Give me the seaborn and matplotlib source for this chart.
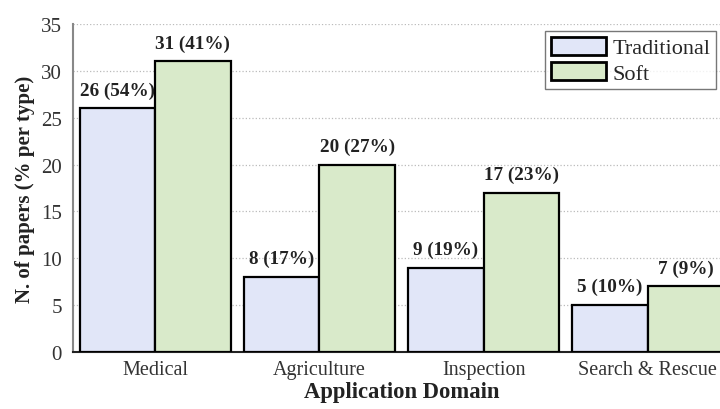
import pandas as pd
import matplotlib.pyplot as plt
import seaborn as sns

domains = ["Medical", "Agriculture", "Inspection", "Search & Rescue"]
traditional = [26, 8, 9, 5]
soft = [31, 20, 17, 7]
series = ["Traditional", "Soft"]
colors = ["#dde4fc", "#d9efc5"]

df = pd.DataFrame({
    "Domain": domains * 2,
    "Papers": traditional + soft,
    "Type": [series[0]] * len(domains) + [series[1]] * len(domains),
})

sns.set_style("white")
plt.rcParams["font.family"] = ["Liberation Serif", "DejaVu Serif"]

fig = plt.figure(figsize=(7.2, 4.1), dpi=100)
ax = fig.add_axes([73 / 720, 57 / 410, 657 / 720, 328 / 410])

sns.barplot(data=df, x="Domain", y="Papers", hue="Type", palette=colors,
            width=0.92, gap=0, edgecolor="black", linewidth=1.6, ax=ax,
            zorder=3)

# labels: count (share of its type)
for cont, vals in zip(ax.containers, [traditional, soft]):
    total = sum(vals)
    labels = [f"{v} ({round(100 * v / total)}%)" for v in vals]
    ax.bar_label(cont, labels=labels, padding=7, fontsize=13.8,
                 fontweight="bold", color="#222222")

ax.set_xlim(-0.5, 3.5)
ax.set_ylim(0, 35)
ax.set_yticks(range(0, 36, 5))
ax.yaxis.grid(True, linestyle=":", color="#bbbbbb", linewidth=0.9, zorder=0)
ax.set_axisbelow(True)
ax.tick_params(axis="y", direction="in", length=6, color="#888888",
               labelsize=15, labelcolor="#333333", pad=8)
ax.tick_params(axis="x", length=0, labelsize=14.5, labelcolor="#333333", pad=6)

for side in ["top", "right"]:
    ax.spines[side].set_visible(False)
ax.spines["left"].set_color("#888888")
ax.spines["left"].set_linewidth(1.5)
ax.spines["bottom"].set_color("#222222")
ax.spines["bottom"].set_linewidth(1.5)

ax.set_xlabel("Application Domain", fontsize=16.3, fontweight="bold",
              color="#222222", labelpad=1)
ax.set_ylabel("N. of papers (% per type)", fontsize=15, fontweight="bold",
              color="#222222", labelpad=4)

leg = ax.legend(loc="upper right", bbox_to_anchor=(716 / 720, 378 / 410),
                bbox_transform=fig.transFigure, fontsize=16, frameon=True,
                fancybox=False, edgecolor="#555555", handlelength=2.5,
                handleheight=0.9, handletextpad=0.27, borderpad=0.25,
                labelspacing=0.15, borderaxespad=0)
leg.get_frame().set_linewidth(1.0)
for h in leg.legend_handles:
    h.set_linewidth(2)

fig.savefig("out.png", dpi=100)
